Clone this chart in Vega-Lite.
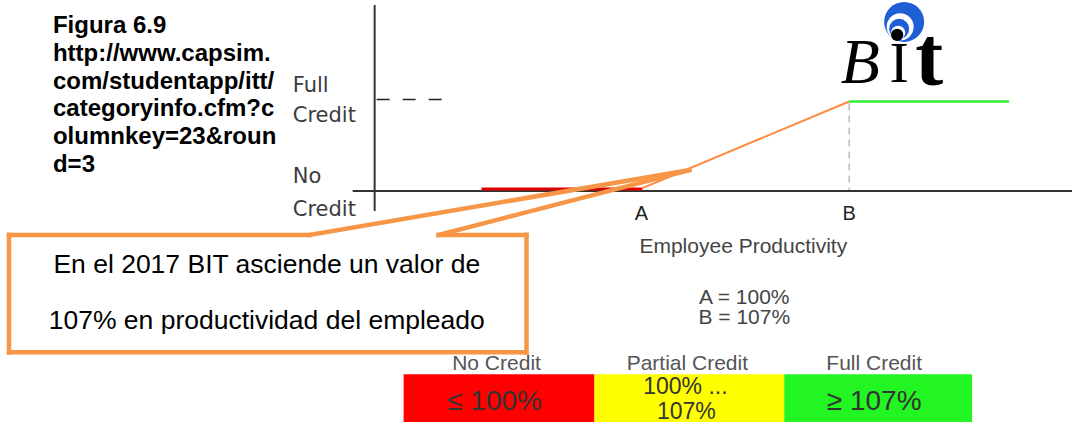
{
  "$schema": "https://vega.github.io/schema/vega-lite/v6.json",
  "width": 1073,
  "height": 424,
  "autosize": {"type": "fit", "contains": "padding"},
  "padding": 0,
  "background": "white",
  "config": {"view": {"stroke": null}},
  "layer": [
    {
      "data": {"values": [
        {"x": 404, "x2": 595, "y": 376, "y2": 424, "c": "#ff0000"},
        {"x": 595, "x2": 785, "y": 376, "y2": 424, "c": "#ffff00"},
        {"x": 785, "x2": 973, "y": 376, "y2": 424, "c": "#22f522"}
      ]},
      "mark": {"type": "rect"},
      "encoding": {
        "x": {"field": "x", "type": "quantitative", "scale": {"domain": [0, 1073], "nice": false, "zero": false}, "axis": null},
        "x2": {"field": "x2"},
        "y": {"field": "y", "type": "quantitative", "scale": {"domain": [0, 424], "reverse": true, "nice": false, "zero": false}, "axis": null},
        "y2": {"field": "y2"},
        "color": {"field": "c", "type": "nominal", "scale": null}
      }
    },
    {
      "data": {"values": [
        {"x": 375, "y": 5, "x2": 375, "y2": 212, "c": "#333333", "w": 2},
        {"x": 353, "y": 192, "x2": 1073, "y2": 192, "c": "#333333", "w": 2},
        {"x": 482, "y": 190, "x2": 643, "y2": 190, "c": "#e00000", "w": 3},
        {"x": 643, "y": 189, "x2": 850, "y2": 102, "c": "#ff8a3d", "w": 2},
        {"x": 850, "y": 102, "x2": 1010, "y2": 102, "c": "#33ee33", "w": 2.5}
      ]},
      "mark": {"type": "rule"},
      "encoding": {
        "x": {"field": "x", "type": "quantitative", "scale": {"domain": [0, 1073], "nice": false, "zero": false}, "axis": null},
        "x2": {"field": "x2"},
        "y": {"field": "y", "type": "quantitative", "scale": {"domain": [0, 424], "reverse": true, "nice": false, "zero": false}, "axis": null},
        "y2": {"field": "y2"},
        "color": {"field": "c", "type": "nominal", "scale": null},
        "strokeWidth": {"field": "w", "type": "quantitative", "scale": null}
      }
    },
    {
      "data": {"values": [
        {"x": 377, "y": 100, "x2": 445, "y2": 100}
      ]},
      "mark": {"type": "rule", "color": "#222222", "strokeWidth": 1.6, "strokeDash": [13, 13]},
      "encoding": {
        "x": {"field": "x", "type": "quantitative", "scale": {"domain": [0, 1073], "nice": false, "zero": false}, "axis": null},
        "x2": {"field": "x2"},
        "y": {"field": "y", "type": "quantitative", "scale": {"domain": [0, 424], "reverse": true, "nice": false, "zero": false}, "axis": null},
        "y2": {"field": "y2"}
      }
    },
    {
      "data": {"values": [
        {"x": 850, "y": 104, "x2": 850, "y2": 191}
      ]},
      "mark": {"type": "rule", "color": "#bbbbbb", "strokeWidth": 1.5, "strokeDash": [7, 5]},
      "encoding": {
        "x": {"field": "x", "type": "quantitative", "scale": {"domain": [0, 1073], "nice": false, "zero": false}, "axis": null},
        "x2": {"field": "x2"},
        "y": {"field": "y", "type": "quantitative", "scale": {"domain": [0, 424], "reverse": true, "nice": false, "zero": false}, "axis": null},
        "y2": {"field": "y2"}
      }
    },
    {
      "data": {"values": [
        {"x": 9, "y": 236, "x2": 9, "y2": 354},
        {"x": 9, "y": 354, "x2": 527, "y2": 354},
        {"x": 527, "y": 236, "x2": 527, "y2": 354},
        {"x": 9, "y": 236, "x2": 310, "y2": 236},
        {"x": 439, "y": 236, "x2": 527, "y2": 236},
        {"x": 310, "y": 236, "x2": 690, "y2": 171},
        {"x": 439, "y": 236, "x2": 690, "y2": 171}
      ]},
      "mark": {"type": "rule", "color": "#f79646", "strokeWidth": 4.5, "strokeCap": "square"},
      "encoding": {
        "x": {"field": "x", "type": "quantitative", "scale": {"domain": [0, 1073], "nice": false, "zero": false}, "axis": null},
        "x2": {"field": "x2"},
        "y": {"field": "y", "type": "quantitative", "scale": {"domain": [0, 424], "reverse": true, "nice": false, "zero": false}, "axis": null},
        "y2": {"field": "y2"}
      }
    },
    {
      "data": {"values": [
        {"x": 905, "y": 22, "s": 1600, "c": "#1f5fd6"},
        {"x": 901, "y": 27, "s": 729, "c": "#ffffff"},
        {"x": 900, "y": 29, "s": 400, "c": "#1f5fd6"},
        {"x": 899, "y": 33, "s": 200, "c": "#ffffff"},
        {"x": 898, "y": 35, "s": 150, "c": "#000000"}
      ]},
      "mark": {"type": "point", "shape": "circle", "filled": true, "opacity": 1, "strokeWidth": 0},
      "encoding": {
        "x": {"field": "x", "type": "quantitative", "scale": {"domain": [0, 1073], "nice": false, "zero": false}, "axis": null},
        "y": {"field": "y", "type": "quantitative", "scale": {"domain": [0, 424], "reverse": true, "nice": false, "zero": false}, "axis": null},
        "size": {"field": "s", "type": "quantitative", "scale": null},
        "color": {"field": "c", "type": "nominal", "scale": null}
      }
    },
    {
      "data": {"values": [
        {"x": 861, "y": 83, "t": "B"}
      ]},
      "mark": {"type": "text", "font": "Liberation Serif", "fontStyle": "italic", "fontSize": 64, "align": "center", "baseline": "alphabetic", "color": "#000000"},
      "encoding": {
        "x": {"field": "x", "type": "quantitative", "scale": {"domain": [0, 1073], "nice": false, "zero": false}, "axis": null},
        "y": {"field": "y", "type": "quantitative", "scale": {"domain": [0, 424], "reverse": true, "nice": false, "zero": false}, "axis": null},
        "text": {"field": "t"}
      }
    },
    {
      "data": {"values": [
        {"x": 900, "y": 82, "t": "I"}
      ]},
      "mark": {"type": "text", "font": "Liberation Serif", "fontSize": 58, "align": "center", "baseline": "alphabetic", "color": "#000000"},
      "encoding": {
        "x": {"field": "x", "type": "quantitative", "scale": {"domain": [0, 1073], "nice": false, "zero": false}, "axis": null},
        "y": {"field": "y", "type": "quantitative", "scale": {"domain": [0, 424], "reverse": true, "nice": false, "zero": false}, "axis": null},
        "text": {"field": "t"}
      }
    },
    {
      "data": {"values": [
        {"x": 930, "y": 85, "t": "t"}
      ]},
      "mark": {"type": "text", "font": "Liberation Serif", "fontWeight": "bold", "fontSize": 84, "align": "center", "baseline": "alphabetic", "color": "#000000"},
      "encoding": {
        "x": {"field": "x", "type": "quantitative", "scale": {"domain": [0, 1073], "nice": false, "zero": false}, "axis": null},
        "y": {"field": "y", "type": "quantitative", "scale": {"domain": [0, 424], "reverse": true, "nice": false, "zero": false}, "axis": null},
        "text": {"field": "t"}
      }
    },
    {
      "data": {"values": [
        {"x": 53, "y": 33, "t": "Figura 6.9"},
        {"x": 53, "y": 61, "t": "http://www.capsim."},
        {"x": 53, "y": 89, "t": "com/studentapp/itt/"},
        {"x": 53, "y": 117, "t": "categoryinfo.cfm?c"},
        {"x": 53, "y": 145, "t": "olumnkey=23&roun"},
        {"x": 53, "y": 173, "t": "d=3"}
      ]},
      "mark": {"type": "text", "font": "Liberation Sans", "fontWeight": "bold", "fontSize": 24, "align": "left", "baseline": "alphabetic", "color": "#000000"},
      "encoding": {
        "x": {"field": "x", "type": "quantitative", "scale": {"domain": [0, 1073], "nice": false, "zero": false}, "axis": null},
        "y": {"field": "y", "type": "quantitative", "scale": {"domain": [0, 424], "reverse": true, "nice": false, "zero": false}, "axis": null},
        "text": {"field": "t"}
      }
    },
    {
      "data": {"values": [
        {"x": 293, "y": 92, "t": "Full"},
        {"x": 293, "y": 123, "t": "Credit"},
        {"x": 293, "y": 184, "t": "No"},
        {"x": 293, "y": 217, "t": "Credit"}
      ]},
      "mark": {"type": "text", "font": "DejaVu Sans", "fontSize": 21, "align": "left", "baseline": "alphabetic", "color": "#3c3c3c"},
      "encoding": {
        "x": {"field": "x", "type": "quantitative", "scale": {"domain": [0, 1073], "nice": false, "zero": false}, "axis": null},
        "y": {"field": "y", "type": "quantitative", "scale": {"domain": [0, 424], "reverse": true, "nice": false, "zero": false}, "axis": null},
        "text": {"field": "t"}
      }
    },
    {
      "data": {"values": [
        {"x": 642, "y": 221, "s": 20, "c": "#222222", "t": "A"},
        {"x": 850, "y": 221, "s": 20, "c": "#222222", "t": "B"},
        {"x": 744, "y": 254, "s": 21, "c": "#444444", "t": "Employee Productivity"},
        {"x": 745, "y": 305, "s": 21, "c": "#444444", "t": "A = 100%"},
        {"x": 745, "y": 326, "s": 21, "c": "#444444", "t": "B = 107%"},
        {"x": 497, "y": 372, "s": 21, "c": "#555555", "t": "No Credit"},
        {"x": 688, "y": 372, "s": 21, "c": "#555555", "t": "Partial Credit"},
        {"x": 875, "y": 372, "s": 21, "c": "#555555", "t": "Full Credit"},
        {"x": 495, "y": 412, "s": 28, "c": "#333333", "t": "≤ 100%"},
        {"x": 875, "y": 412, "s": 28, "c": "#333333", "t": "≥ 107%"},
        {"x": 686, "y": 396, "s": 23, "c": "#333333", "t": "100% ..."},
        {"x": 687, "y": 421, "s": 23, "c": "#333333", "t": "107%"}
      ]},
      "mark": {"type": "text", "font": "Liberation Sans", "align": "center", "baseline": "alphabetic"},
      "encoding": {
        "x": {"field": "x", "type": "quantitative", "scale": {"domain": [0, 1073], "nice": false, "zero": false}, "axis": null},
        "y": {"field": "y", "type": "quantitative", "scale": {"domain": [0, 424], "reverse": true, "nice": false, "zero": false}, "axis": null},
        "size": {"field": "s", "type": "quantitative", "scale": null},
        "color": {"field": "c", "type": "nominal", "scale": null},
        "text": {"field": "t"}
      }
    },
    {
      "data": {"values": [
        {"x": 267, "y": 274, "t": "En el 2017 BIT asciende un valor de"},
        {"x": 267, "y": 331, "t": "107% en productividad del empleado"}
      ]},
      "mark": {"type": "text", "font": "Liberation Sans", "fontSize": 26.5, "align": "center", "baseline": "alphabetic", "color": "#000000"},
      "encoding": {
        "x": {"field": "x", "type": "quantitative", "scale": {"domain": [0, 1073], "nice": false, "zero": false}, "axis": null},
        "y": {"field": "y", "type": "quantitative", "scale": {"domain": [0, 424], "reverse": true, "nice": false, "zero": false}, "axis": null},
        "text": {"field": "t"}
      }
    }
  ]
}
